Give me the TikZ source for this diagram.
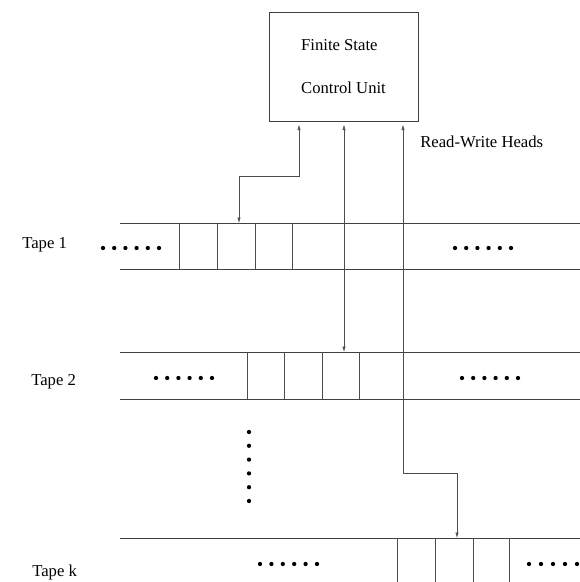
\documentclass[tikz,border=0pt]{standalone}
\usepackage{fontspec}
\setmainfont{Liberation Serif}
\usepackage{tikz}
\usetikzlibrary{arrows.meta,positioning}

\begin{document}
\begin{tikzpicture}[
  x=0.75pt, y=-0.75pt,
  font=\fontsize{12.5}{14}\selectfont,
  unit/.style={draw=black!75, line width=0.5pt, minimum width=111.75pt, minimum height=81.75pt, align=left},
  tapeline/.style={draw=black!75, line width=0.5pt},
  cellline/.style={draw=black!70, line width=0.4pt},
  head/.style={{Latex[length=4pt,width=2.4pt]}-{Latex[length=4pt,width=2.4pt]}, draw=black!70, line width=0.4pt, shorten <=2.5pt},
  dot/.style={circle, fill=black, inner sep=0pt, minimum size=3.2pt},
  tapelbl/.style={anchor=west, inner sep=0pt}
]
  \useasboundingbox (0,0) rectangle (580,582);

  % control unit
  \node[unit] (ctrl) at (343.5,66.5) {Finite State\\[18pt]Control Unit};

  % tapes
  \draw[tapeline] (120,223) -- (580,223) (120,269) -- (580,269);
  \draw[tapeline] (120,352) -- (580,352) (120,399) -- (580,399);
  \draw[tapeline] (120,538) -- (580,538);
  \foreach \x in {179,217,255,292} \draw[cellline] (\x,223) -- (\x,269);
  \foreach \x in {247,284,322,359} \draw[cellline] (\x,352) -- (\x,399);
  \foreach \x in {397,435,473,509} \draw[cellline] (\x,538) -- (\x,582);

  \node[tapelbl] (tp1) at (22,245) {Tape 1};
  \node[tapelbl] (tp2) at (31,382) {Tape 2};
  \node[tapelbl] (tpk) at (32,572) {Tape k};

  % dots
  \foreach \i in {0,...,5} {
    \node[dot] at (103+11.2*\i,248) {};
    \node[dot] at (455+11.2*\i,248) {};
    \node[dot] at (156+11.2*\i,378) {};
    \node[dot] at (462+11.2*\i,378) {};
    \node[dot] at (260+11.4*\i,564) {};
    \node[dot] at (249,432+13.8*\i) {};
  }
  \foreach \i in {0,...,4} \node[dot] at (529+12*\i,564) {};

  % read-write heads
  \coordinate (h1) at (239,223);
  \coordinate (b1) at (299,176);
  \coordinate (h2) at (344,352);
  \coordinate (h3) at (457,538);
  \coordinate (b3) at (403,473);
  \draw[head] (ctrl.south -| b1) -- (b1) -| (h1);
  \draw[head] (ctrl.south -| h2) -- (h2);
  \draw[head] (ctrl.south -| b3) -- (b3) -| (h3);
  \node[anchor=west, inner sep=0pt] (rw) at (420,142) {Read-Write Heads};
\end{tikzpicture}
\end{document}
